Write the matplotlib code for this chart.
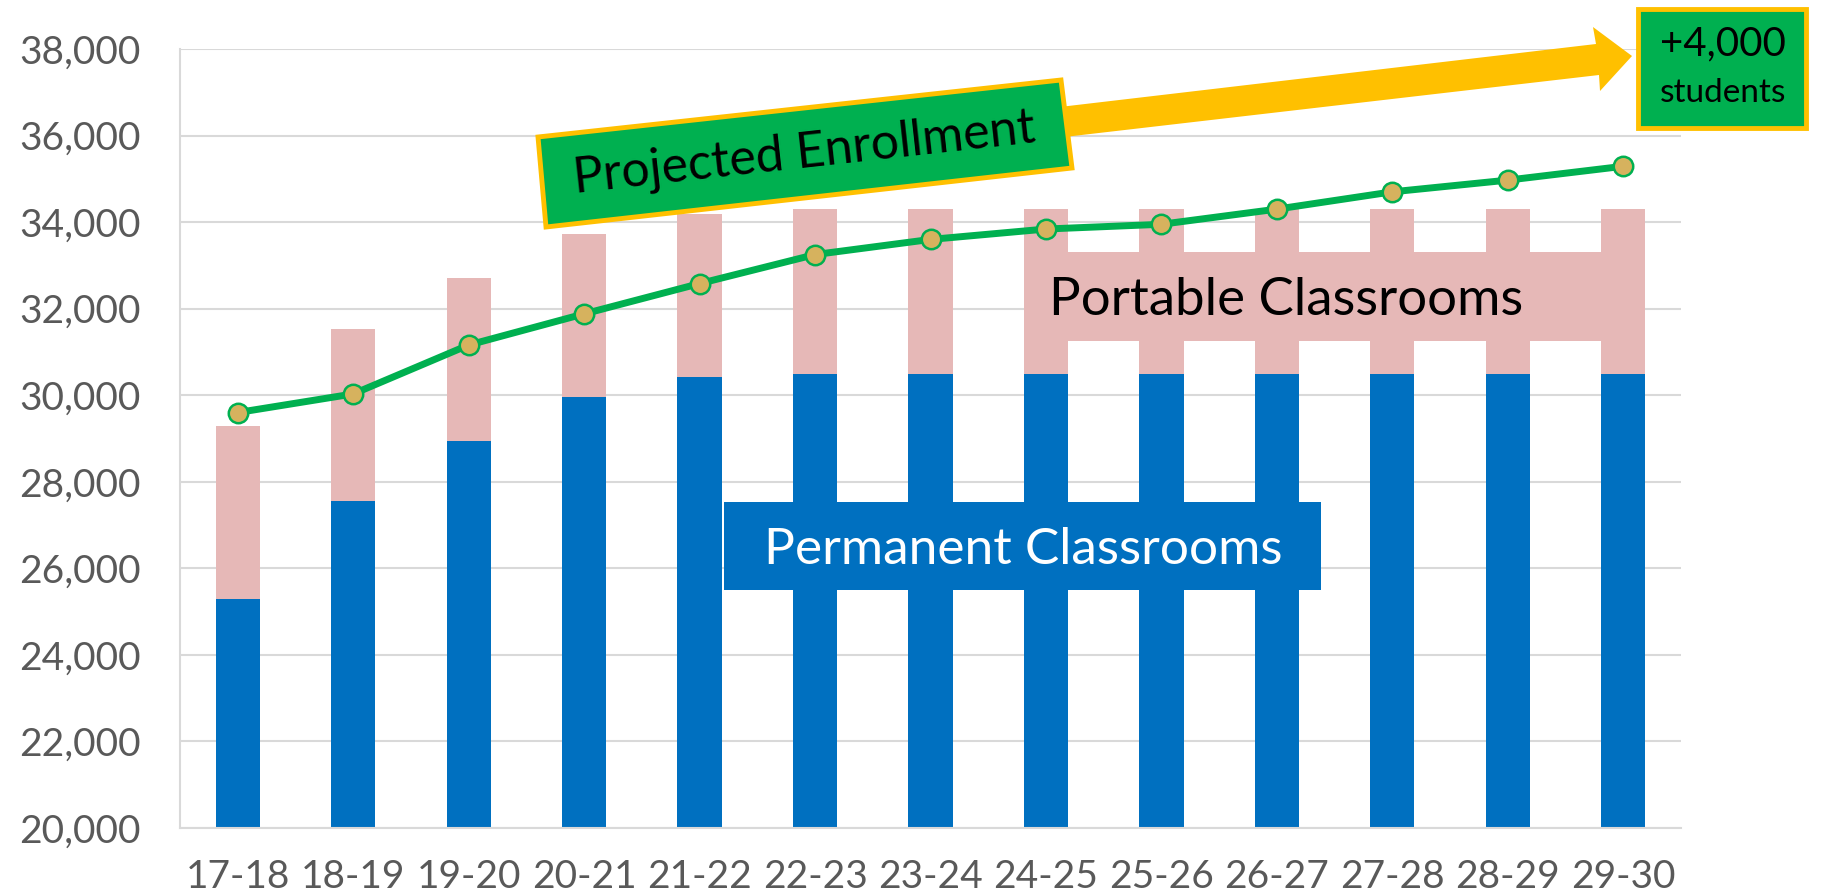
import matplotlib
matplotlib.use('Agg')
import matplotlib.pyplot as plt
from matplotlib.patches import Rectangle, Polygon
from matplotlib.ticker import FuncFormatter
import numpy as np

plt.rcParams['font.family'] = ['Lato', 'DejaVu Sans']

years = ['17-18', '18-19', '19-20', '20-21', '21-22', '22-23', '23-24',
         '24-25', '25-26', '26-27', '27-28', '28-29', '29-30']
permanent = [25300, 27550, 28950, 29950, 30430, 30490, 30490,
             30490, 30490, 30490, 30490, 30490, 30490]
capacity_total = [29280, 31530, 32720, 33730, 34190, 34300, 34300,
                  34300, 34300, 34300, 34300, 34300, 34300]
portable = [t - p for t, p in zip(capacity_total, permanent)]
enrollment = [29600, 30030, 31160, 31880, 32580, 33250, 33600,
              33840, 33950, 34300, 34700, 34970, 35290]

BLUE = '#0070C0'
PINK = '#E6B8B7'
GREEN = '#00B050'
YELLOW = '#FFC000'
GOLD = '#D6B25E'
GRID = '#D9D9D9'
TICK = '#595959'

fig = plt.figure(figsize=(18.22, 8.92), dpi=100)
ax = fig.add_axes([180/1822, 64/892, 1501/1822, 779/892])

x = np.arange(len(years))
bw = 0.383
ax.bar(x, permanent, width=bw, color=BLUE, zorder=2)
ax.bar(x, portable, width=bw, bottom=permanent, color=PINK, zorder=2)
ax.plot(x, enrollment, color=GREEN, lw=5, marker='o', markersize=14,
        markerfacecolor=GOLD, markeredgecolor=GREEN, markeredgewidth=1.8, zorder=5)

ax.set_xlim(-0.5, len(years) - 0.5)
ax.set_ylim(20000, 38000)
ax.set_yticks(range(20000, 38001, 2000))
ax.yaxis.set_major_formatter(FuncFormatter(lambda v, p: f'{v:,.0f}'))
ax.set_xticks(x)
ax.set_xticklabels(years)
ax.grid(axis='y', color=GRID, lw=1.5, zorder=0)
ax.set_axisbelow(True)
for s in ['top', 'right']:
    ax.spines[s].set_visible(False)
ax.spines['left'].set_color(GRID)
ax.spines['bottom'].set_color(GRID)
ax.spines['left'].set_linewidth(1.5)
ax.spines['bottom'].set_linewidth(1.5)
ax.tick_params(axis='both', length=0, colors=TICK, labelsize=28)
ax.tick_params(axis='y', pad=28)
ax.tick_params(axis='x', pad=22)

# Portable classrooms label box
ax.add_patch(Rectangle((7 - bw/2, 31250), 5 + bw, 2050, color=PINK, zorder=3, lw=0))
ax.text(9.08, 32200, 'Portable Classrooms', ha='center', va='center',
        fontsize=38, color='black', zorder=4)

# Permanent classrooms label box
ax.add_patch(Rectangle((4.21, 25500), 5.17, 2030, color=BLUE, zorder=3, lw=0))
ax.text(6.8, 26420, 'Permanent Classrooms', ha='center', va='center',
        fontsize=37, color='white', zorder=4)

# overlay in pixel coords
ov = fig.add_axes([0, 0, 1, 1])
ov.set_xlim(0, 1822)
ov.set_ylim(892, 0)
ov.axis('off')
ov.patch.set_alpha(0)

arrow = Polygon([(1000, 114), (1596, 44), (1593, 27), (1632, 56),
                 (1600, 91), (1599, 75), (1004, 144)],
                closed=True, facecolor=YELLOW, edgecolor='none', zorder=2)
ov.add_patch(arrow)

pe = Polygon([(538, 137), (1061, 80), (1072, 168), (546, 227)], closed=True,
             facecolor=GREEN, edgecolor=YELLOW, lw=3.5, zorder=3)
ov.add_patch(pe)
ov.text(804, 153, 'Projected Enrollment', ha='center', va='center',
        rotation=6.3, rotation_mode='anchor', fontsize=36, color='black', zorder=4)

ov.add_patch(Rectangle((1638, 9), 168, 119, facecolor=GREEN, edgecolor=YELLOW,
                       lw=3.5, zorder=3))
ov.text(1723, 44, '+4,000', ha='center', va='center', fontsize=29, color='black', zorder=4)
ov.text(1723, 93, 'students', ha='center', va='center', fontsize=24, color='black', zorder=4)

fig.savefig('out.png', dpi=100)
